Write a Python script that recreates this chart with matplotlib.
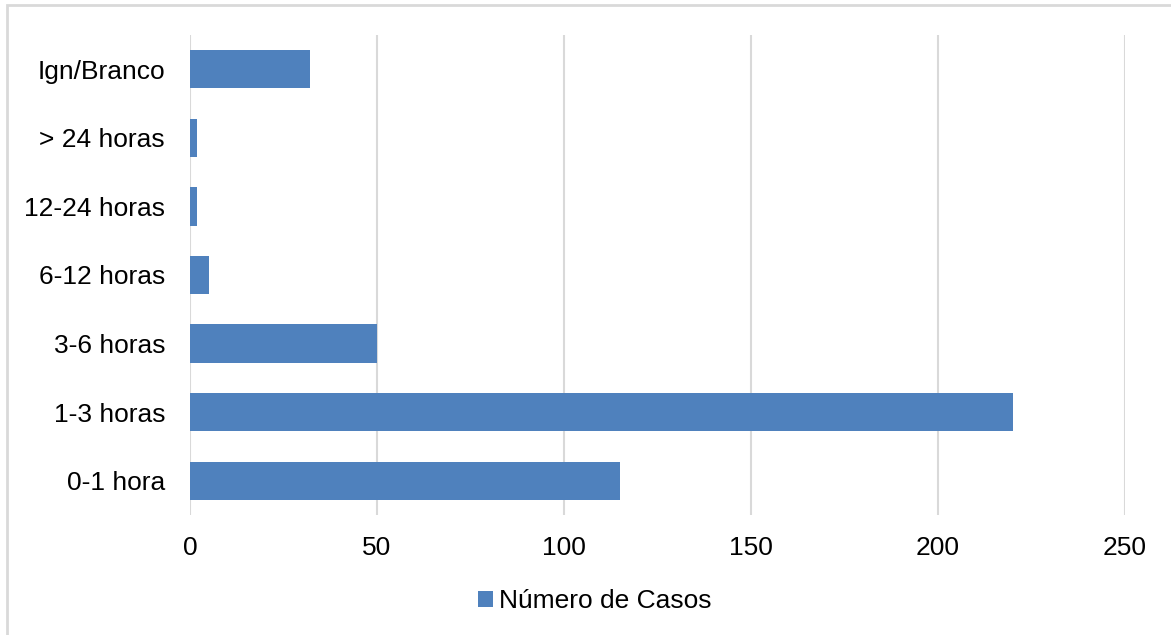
import matplotlib.pyplot as plt
from matplotlib.patches import Rectangle

plt.rcParams['font.family'] = ['Liberation Sans', 'DejaVu Sans']

# Data
categorias = ['0-1 hora', '1-3 horas', '3-6 horas', '6-12 horas',
              '12-24 horas', '> 24 horas', 'Ign/Branco']
casos = [115, 220, 50, 5, 2, 2, 32]
xticks = [0, 50, 100, 150, 200, 250]
serie = 'Número de Casos'

bar_color = '#4f81bd'
grid_color = '#d9d9d9'

W, H = 1171, 635
fig = plt.figure(figsize=(W / 100, H / 100), dpi=100)
ax = fig.add_axes([190 / W, (H - 515) / H, (1125 - 190) / W, 480 / H])

ax.barh(categorias, casos, height=0.56, color=bar_color, label=serie, zorder=3)

ax.set_xlim(0, 250)
ax.set_ylim(-0.5, len(categorias) - 0.5)
ax.set_xticks(xticks)
ax.xaxis.grid(True, color=grid_color, linewidth=1.5, zorder=0)
ax.tick_params(axis='both', length=0, labelsize=19, colors='black')
ax.tick_params(axis='x', pad=15)
ax.tick_params(axis='y', pad=18)
for s in ax.spines.values():
    s.set_visible(False)

fig.legend(loc='center', bbox_to_anchor=(595 / W, (H - 601) / H), frameon=False,
           fontsize=19, handlelength=0.55, handleheight=0.55, handletextpad=0.25)

# light grey chart frame (right/bottom edges fall outside the crop)
fig.patches.append(Rectangle((7 / W, -0.05), 1.2, (H - 5) / H + 0.05,
                             transform=fig.transFigure, fill=False,
                             edgecolor=grid_color, linewidth=2))

fig.savefig('out.png', dpi=100)
